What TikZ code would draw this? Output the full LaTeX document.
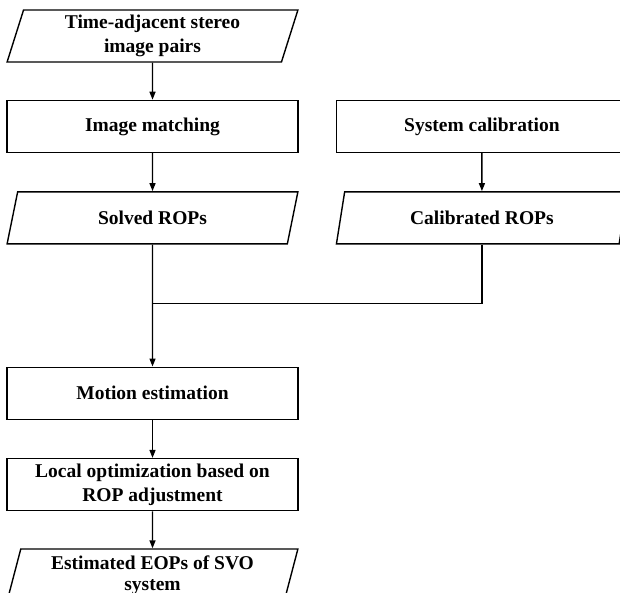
\documentclass[tikz,border=0pt]{standalone}
\usepackage{fontspec}
\setmainfont{Liberation Serif}
\usepackage{tikz}
\usetikzlibrary{shapes.geometric, arrows.meta, positioning}

\begin{document}
\begin{tikzpicture}[
    x=1pt, y=1pt,
    box/.style={draw=black, rectangle, minimum width=291pt, minimum height=52pt, line width=1.4pt, align=center, inner sep=2pt, font=\fontsize{19.5}{24}\selectfont\bfseries},
    data/.style={box, trapezium, trapezium left angle=76, trapezium right angle=104, trapezium stretches=true},
    arrow/.style={->, >={Triangle[length=8pt, width=6pt]}, line width=1.4pt}
]
\useasboundingbox (0,0) rectangle (620,-592);
\node[data] (pairs) at (152.5,-36) {Time-adjacent stereo\\image pairs};
\node[box, below=37pt of pairs] (matching) {Image matching};
\node[data, below=38pt of matching] (solved) {Solved ROPs};
\node[box, right=37pt of matching] (calib) {System calibration};
\node[data, below=38pt of calib] (calibrated) {Calibrated ROPs};
\node[box, below=122pt of solved] (motion) {Motion estimation};
\node[box, below=38pt of motion] (local) {Local optimization based on\\ROP adjustment};
\node[data, below=37pt of local, font=\fontsize{19.5}{21}\selectfont\bfseries] (eops) {Estimated EOPs of SVO\\system};
\coordinate[below=59pt of solved.south] (join);

\draw[arrow] (pairs) -- (matching);
\draw[arrow] (matching) -- (solved);
\draw[arrow] (calib) -- (calibrated);
\draw[arrow] (solved) -- (motion);
\draw[line width=1.4pt] (calibrated.south) |- (join);
\draw[arrow] (motion) -- (local);
\draw[arrow] (local) -- (eops);
\end{tikzpicture}
\end{document}
